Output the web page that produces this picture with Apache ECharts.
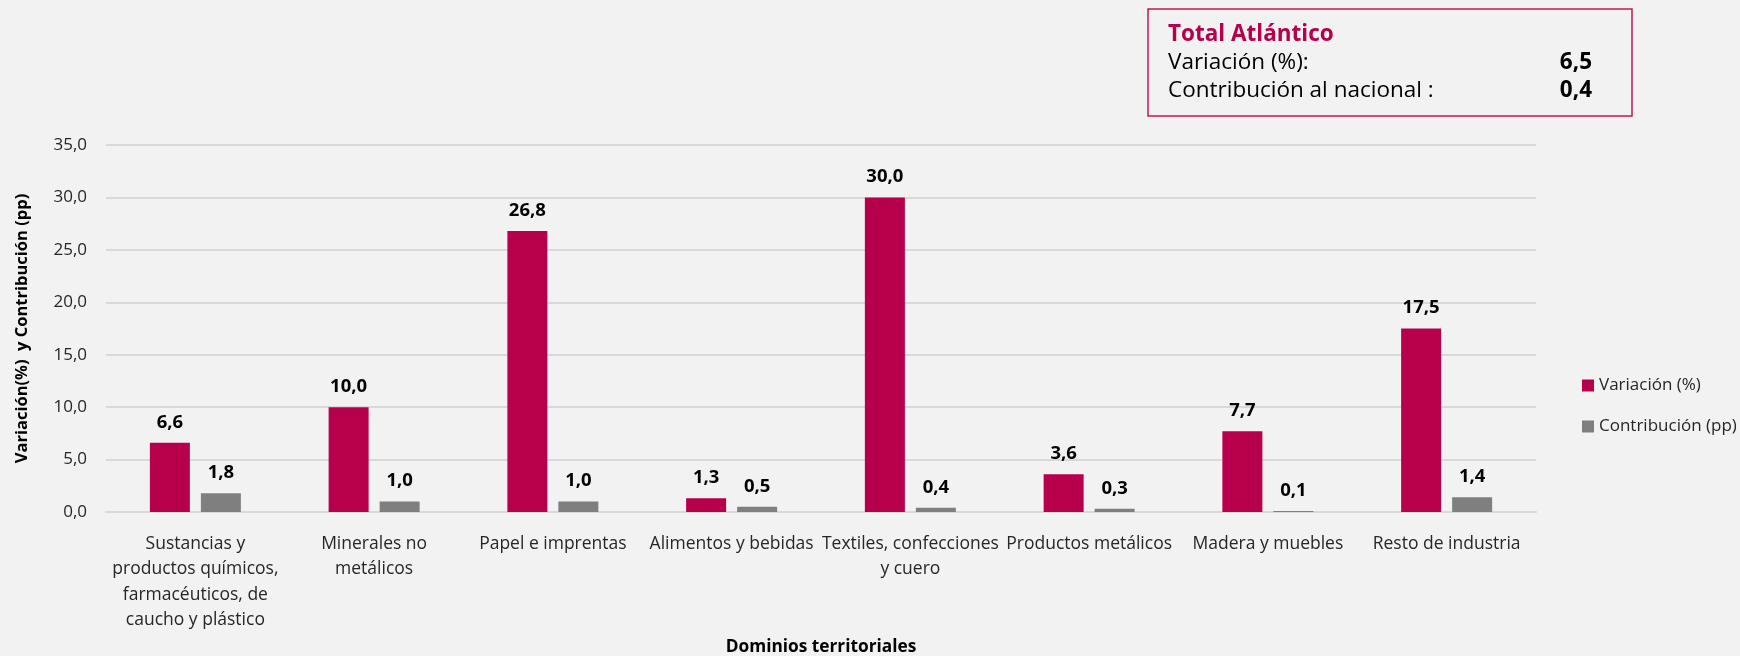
<!DOCTYPE html>
<html>
<head>
<meta charset="utf-8">
<script src="https://cdn.jsdelivr.net/npm/echarts@6/dist/echarts.min.js"></script>
<style>
  html, body { margin: 0; padding: 0; background: #F2F2F2; }
  #main { width: 1740px; height: 656px; }
</style>
</head>
<body>
<div id="main"></div>
<script>
// datos
var categorias = [
  'Sustancias y\nproductos químicos,\nfarmacéuticos, de\ncaucho y plástico',
  'Minerales no\nmetálicos',
  'Papel e imprentas',
  'Alimentos y bebidas',
  'Textiles, confecciones\ny cuero',
  'Productos metálicos',
  'Madera y muebles',
  'Resto de industria'
];
var variacion = [6.6, 10.0, 26.8, 1.3, 30.0, 3.6, 7.7, 17.5];
var contribucion = [1.8, 1.0, 1.0, 0.5, 0.4, 0.3, 0.1, 1.4];
var totalVariacion = 6.5;
var totalContribucion = 0.4;

var FONT = '"Open Sans", "Noto Sans", sans-serif';
var ROJO = '#B7004C';
var GRIS = '#7F7F7F';

function coma(v) {
  return Number(v).toFixed(1).replace('.', ',');
}

var etiqueta = {
  show: true,
  position: 'top',
  distance: 11,
  fontFamily: FONT,
  fontSize: 18.5,
  fontWeight: 'bold',
  color: '#000',
  formatter: function (p) { return coma(p.value); }
};

var myChart = echarts.init(document.getElementById('main'));
myChart.setOption({
  backgroundColor: '#F2F2F2',
  animation: false,
  textStyle: { fontFamily: FONT },
  grid: { left: 106, right: 204, top: 145, bottom: 144, outerBoundsMode: 'none' },
  legend: {
    orient: 'vertical',
    left: 1577,
    top: 372,
    itemWidth: 12,
    itemHeight: 12,
    itemGap: 24,
    itemTextGap: 4,
    icon: 'rect',
    textStyle: { fontFamily: FONT, fontSize: 17, color: '#262626', lineHeight: 17 },
    data: ['Variación (%)', 'Contribución (pp)']
  },
  xAxis: {
    type: 'category',
    data: categorias,
    name: 'Dominios territoriales',
    nameLocation: 'middle',
    nameGap: 127,
    nameTextStyle: { fontFamily: FONT, fontSize: 17.3, fontWeight: 'bold', color: '#000' },
    axisTick: { show: false },
    axisLine: { lineStyle: { color: '#D9D9D9', width: 2 } },
    axisLabel: {
      interval: 0,
      margin: 19,
      fontFamily: FONT,
      fontSize: 17.5,
      lineHeight: 25.5,
      color: '#262626'
    }
  },
  yAxis: {
    type: 'value',
    min: 0,
    max: 35,
    interval: 5,
    name: 'Variación(%)  y Contribución (pp)',
    nameLocation: 'middle',
    nameGap: 75,
    nameTextStyle: { fontFamily: FONT, fontSize: 16.5, fontWeight: 'bold', color: '#000' },
    axisLine: { show: false },
    axisTick: { show: false },
    axisLabel: {
      margin: 19,
      fontFamily: FONT,
      fontSize: 17,
      color: '#262626',
      formatter: coma
    },
    splitLine: { lineStyle: { color: '#D9D9D9', width: 2 } }
  },
  series: [
    {
      name: 'Variación (%)',
      type: 'bar',
      barWidth: 40,
      barGap: '27.5%',
      itemStyle: { color: ROJO },
      label: etiqueta,
      data: variacion
    },
    {
      name: 'Contribución (pp)',
      type: 'bar',
      barWidth: 40,
      barGap: '27.5%',
      itemStyle: { color: GRIS },
      label: etiqueta,
      data: contribucion
    }
  ],
  graphic: [
    {
      type: 'rect',
      shape: { x: 1148, y: 9, width: 484, height: 107 },
      style: { fill: 'none', stroke: '#C0185C', lineWidth: 1.5 }
    },
    {
      type: 'text',
      x: 1168, y: 35,
      style: {
        text: 'Total Atlántico',
        font: 'bold 22.5px ' + FONT,
        fill: ROJO,
        verticalAlign: 'middle'
      }
    },
    {
      type: 'text',
      x: 1168, y: 63,
      style: { text: 'Variación (%):', font: '22.5px ' + FONT, fill: '#000', verticalAlign: 'middle' }
    },
    {
      type: 'text',
      x: 1168, y: 91,
      style: { text: 'Contribución al nacional :', font: '22.5px ' + FONT, fill: '#000', verticalAlign: 'middle' }
    },
    {
      type: 'text',
      x: 1592, y: 63,
      style: { text: coma(totalVariacion), font: 'bold 22.5px ' + FONT, fill: '#000', align: 'right', verticalAlign: 'middle' }
    },
    {
      type: 'text',
      x: 1592, y: 91,
      style: { text: coma(totalContribucion), font: 'bold 22.5px ' + FONT, fill: '#000', align: 'right', verticalAlign: 'middle' }
    }
  ]
});
</script>
</body>
</html>
